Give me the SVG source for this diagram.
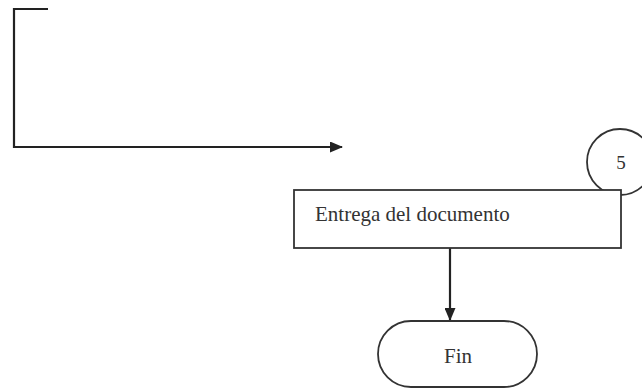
<svg xmlns="http://www.w3.org/2000/svg" width="642" height="390" viewBox="0 0 642 390">
<style>
.shape{fill:#fff;stroke:#333;stroke-width:1.8}
.conn{fill:none;stroke:#222;stroke-width:2.2}
.lbl{font-family:"Liberation Serif",serif;fill:#333}
</style>
<defs>
<marker id="ah" markerWidth="13" markerHeight="11" refX="12" refY="5.5" orient="auto" markerUnits="userSpaceOnUse">
<path d="M0,0 L13,5.5 L0,11 Z" fill="#222"/>
</marker>
</defs>
<rect width="642" height="390" fill="#fff"/>
<g id="connectors">
<path class="conn" d="M48,9 H14 V147 H342" marker-end="url(#ah)"/>
<path class="conn" d="M450,248 V320" marker-end="url(#ah)"/>
</g>
<g id="connector-5">
<circle class="shape" cx="620" cy="162" r="33"/>
<text class="lbl" x="621" y="169" font-size="19" text-anchor="middle">5</text>
</g>
<g id="entrega">
<rect class="shape" x="294" y="190" width="327" height="58"/>
<text class="lbl" x="315" y="221" font-size="21">Entrega del documento</text>
</g>
<g id="fin">
<rect class="shape" x="378" y="321" width="159" height="66" rx="33" ry="33"/>
<text class="lbl" x="458" y="363" font-size="21" text-anchor="middle">Fin</text>
</g>
</svg>
